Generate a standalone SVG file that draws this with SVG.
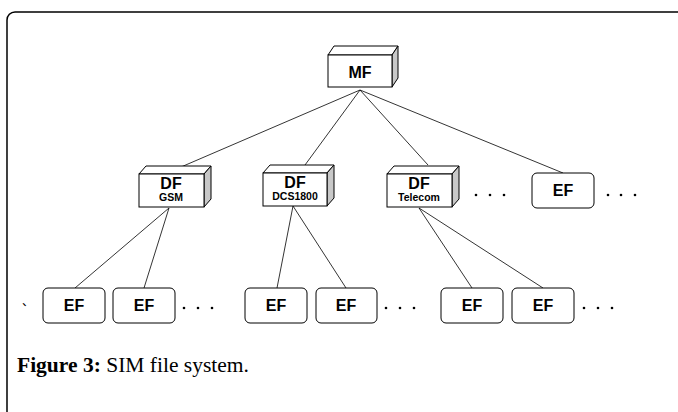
<svg xmlns="http://www.w3.org/2000/svg" width="678" height="412" viewBox="0 0 678 412">
<style>
.front{fill:#fff;stroke:#000;stroke-width:1}
.top{fill:#fff;stroke:#000;stroke-width:1}
.side{fill:#c8c8c8;stroke:#000;stroke-width:1}
.ef{fill:#fff;stroke:#000;stroke-width:1}
.lbl{font-family:"Liberation Sans",Arial,sans-serif;font-weight:bold;fill:#000;text-anchor:middle}
.big{font-size:16px}
.small{font-size:10.5px}
.conn line{stroke:#000;stroke-width:0.8}
.dot{fill:#000}
</style>
<rect x="7" y="12" width="700" height="440" rx="8" fill="#fff" stroke="#000" stroke-width="1.5"/>
<g class="conn">
<line x1="360" y1="90" x2="181" y2="167"/>
<line x1="360" y1="90" x2="305" y2="165"/>
<line x1="360" y1="90" x2="428" y2="165"/>
<line x1="360" y1="90" x2="563" y2="173"/>
<line x1="169" y1="208" x2="75" y2="288"/>
<line x1="169" y1="208" x2="144" y2="288"/>
<line x1="293" y1="206" x2="277" y2="288"/>
<line x1="293" y1="206" x2="346" y2="288"/>
<line x1="419" y1="208" x2="472" y2="288"/>
<line x1="419" y1="208" x2="543" y2="288"/>
</g>
<g id="MF">
<polygon class="top" points="328,55 334,46 398,46 392,55"/>
<polygon class="side" points="392,55 398,46 398,78 392,87"/>
<rect class="front" x="328" y="55" width="64" height="32"/>
<text class="lbl big" x="360" y="78">MF</text>
</g>
<g id="DF_GSM">
<polygon class="top" points="139,174 146,166 211,166 204,174"/>
<polygon class="side" points="204,174 211,166 211,199 204,207"/>
<rect class="front" x="139" y="174" width="65" height="33"/>
<text class="lbl big" x="171" y="189">DF</text>
<text class="lbl small" x="171" y="201">GSM</text>
</g>
<g id="DF_DCS1800">
<polygon class="top" points="263,173 270,165 334,165 327,173"/>
<polygon class="side" points="327,173 334,165 334,198 327,206"/>
<rect class="front" x="263" y="173" width="64" height="33"/>
<text class="lbl big" x="295" y="188">DF</text>
<text class="lbl small" x="295" y="200">DCS1800</text>
</g>
<g id="DF_Telecom">
<polygon class="top" points="387,174 394,166 459,166 452,174"/>
<polygon class="side" points="452,174 459,166 459,199 452,207"/>
<rect class="front" x="387" y="174" width="65" height="33"/>
<text class="lbl big" x="419" y="189">DF</text>
<text class="lbl small" x="419" y="201">Telecom</text>
</g>
<g id="EF_top">
<rect class="ef" x="532" y="173" width="62" height="35" rx="5"/>
<text class="lbl big" x="563" y="196">EF</text>
</g>
<g id="EF1"><rect class="ef" x="43" y="288" width="62" height="35" rx="5"/><text class="lbl big" x="74" y="311">EF</text></g>
<g id="EF2"><rect class="ef" x="113" y="288" width="62" height="35" rx="5"/><text class="lbl big" x="144" y="311">EF</text></g>
<g id="EF3"><rect class="ef" x="245" y="288" width="62" height="35" rx="5"/><text class="lbl big" x="276" y="311">EF</text></g>
<g id="EF4"><rect class="ef" x="316" y="288" width="61" height="35" rx="5"/><text class="lbl big" x="346" y="311">EF</text></g>
<g id="EF5"><rect class="ef" x="441" y="288" width="62" height="35" rx="5"/><text class="lbl big" x="472" y="311">EF</text></g>
<g id="EF6"><rect class="ef" x="512" y="288" width="62" height="35" rx="5"/><text class="lbl big" x="543" y="311">EF</text></g>
<g id="dots">
<circle class="dot" cx="476" cy="195" r="1.3"/><circle class="dot" cx="490" cy="195" r="1.3"/><circle class="dot" cx="504" cy="195" r="1.3"/>
<circle class="dot" cx="608" cy="195" r="1.3"/><circle class="dot" cx="621" cy="195" r="1.3"/><circle class="dot" cx="635" cy="195" r="1.3"/>
<circle class="dot" cx="184" cy="308" r="1.3"/><circle class="dot" cx="198" cy="308" r="1.3"/><circle class="dot" cx="212" cy="308" r="1.3"/>
<circle class="dot" cx="386" cy="308" r="1.3"/><circle class="dot" cx="400" cy="308" r="1.3"/><circle class="dot" cx="414" cy="308" r="1.3"/>
<circle class="dot" cx="584" cy="308" r="1.3"/><circle class="dot" cx="598" cy="308" r="1.3"/><circle class="dot" cx="612" cy="308" r="1.3"/>
</g>
<text x="22" y="306" font-family="'Noto Sans CJK SC',sans-serif" font-size="12" fill="#000">、</text>
<text x="17" y="372" font-family="'Liberation Serif','Times New Roman',serif" font-size="21.5" fill="#000"><tspan font-weight="bold">Figure 3:</tspan> SIM file system.</text>
</svg>
